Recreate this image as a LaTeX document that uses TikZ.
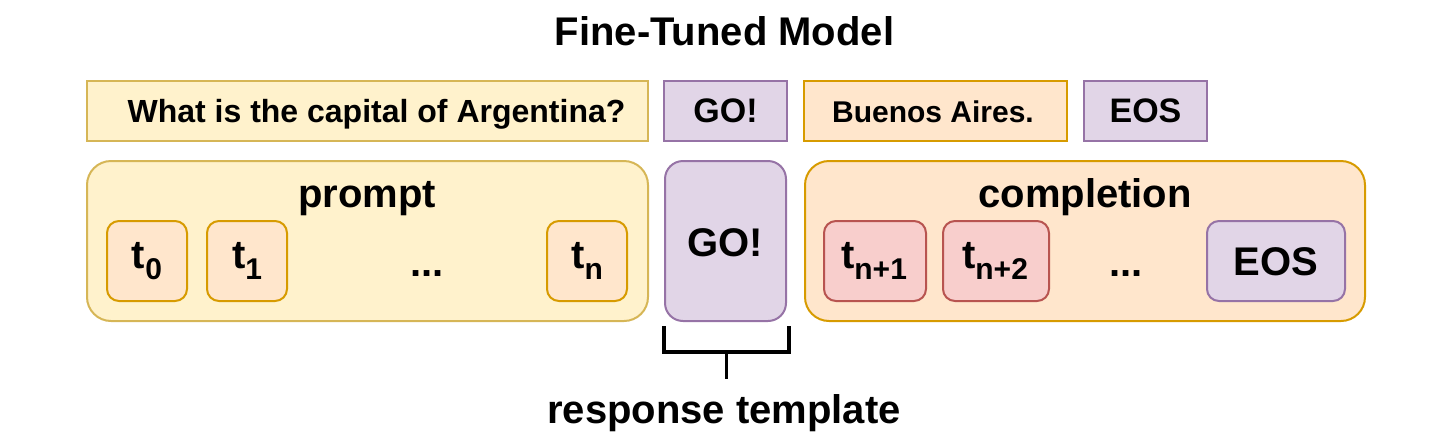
\documentclass[tikz,border=0pt]{standalone}
\usepackage{fontspec}
\setmainfont{Liberation Sans}
\usetikzlibrary{fit}
\definecolor{yelF}{HTML}{FFF2CC}\definecolor{yelD}{HTML}{D6B656}
\definecolor{orF}{HTML}{FFE6CC}\definecolor{orD}{HTML}{D79B00}
\definecolor{puF}{HTML}{E1D5E7}\definecolor{puD}{HTML}{9673A6}
\definecolor{reF}{HTML}{F8CECC}\definecolor{reD}{HTML}{B85450}
\newcommand\tk[1]{t\raisebox{-11pt}{\fontsize{30}{36}\selectfont #1}}
\begin{document}
\begin{tikzpicture}[x=1pt,y=-1pt,
  boxbase/.style={inner sep=0pt, outer sep=0pt, line width=2pt},
  ybox/.style={boxbase, draw=yelD, fill=yelF},
  obox/.style={boxbase, draw=orD, fill=orF},
  pbox/.style={boxbase, draw=puD, fill=puF},
  rbox/.style={boxbase, draw=reD, fill=reF},
  txt/.style={inner sep=0pt, anchor=base, font=\fontsize{40}{48}\selectfont\bfseries},
  smalltxt/.style={txt, font=\fontsize{32}{38}\selectfont\bfseries},
  bracket/.style={line width=3.5pt, draw=black}
]
\useasboundingbox (0,0) rectangle (1452,440);
% title
\node[txt] (title) at (724.5,45) {Fine-Tuned Model};
% top row
\node[ybox, fit={(87,81)(648,141)}] (qbox) {};
\node[smalltxt] (qtxt) at (376.5,122) {What is the capital of Argentina?};
\node[pbox, fit={(664,81)(787,141)}] (gobox) {};
\node[smalltxt, font=\fontsize{34}{40}\selectfont\bfseries] (gotxt) at (725.5,122) {GO!};
\node[obox, fit={(804,81)(1067,141)}] (babox) {};
\node[smalltxt, font=\fontsize{30}{36}\selectfont\bfseries] (batxt) at (933,122) {Buenos Aires.};
\node[pbox, fit={(1084,81)(1207,141)}] (eosbox) {};
\node[smalltxt, font=\fontsize{34}{40}\selectfont\bfseries] (eostxt) at (1145.5,122.5) {EOS};
% prompt group
\node[ybox, rounded corners=24pt, fit={(87,161)(648,321)}] (prompt) {};
\node[txt] (prompttxt) at (367,207) {prompt};
\node[obox, rounded corners=12pt, fit={(107,221)(187,301)}] (t0) {};
\node[txt] (t0txt) at (147,268) {\tk{0}};
\node[obox, rounded corners=12pt, fit={(207,221)(287,301)}] (t1) {};
\node[txt] (t1txt) at (247,268) {\tk{1}};
\node[txt] (pdots) at (427,276) {...};
\node[obox, rounded corners=12pt, fit={(547,221)(627,301)}] (tn) {};
\node[txt] (tntxt) at (587,268) {\tk{n}};
% GO tall
\node[pbox, rounded corners=18pt, fit={(665,161)(786,321)}] (go) {};
\node[txt] (gotall) at (725.5,256) {GO!};
% completion group
\node[obox, rounded corners=24pt, fit={(805,161)(1365,321)}] (compl) {};
\node[txt] (compltxt) at (1085,207) {completion};
\node[rbox, rounded corners=12pt, fit={(824,221)(926,301)}] (tn1) {};
\node[txt] (tn1txt) at (874,268) {\tk{n+1}};
\node[rbox, rounded corners=12pt, fit={(943,221)(1049,301)}] (tn2) {};
\node[txt] (tn2txt) at (995,268) {\tk{n+2}};
\node[txt] (cdots) at (1126,276) {...};
\node[pbox, rounded corners=12pt, fit={(1207,221)(1345,301)}] (eos) {};
\node[txt] (eostall) at (1276,275) {EOS};
% bracket
\coordinate (bl) at (664,326);
\coordinate (br) at (789,326);
\coordinate (bm) at (726.5,352);
\coordinate (bs) at (726.5,379);
\draw[bracket] (bl) -- (bl |- bm) -- (br |- bm) -- (br);
\draw[bracket] (bm) -- (bs);
\node[txt] (resp) at (724,423) {response template};
\end{tikzpicture}
\end{document}
